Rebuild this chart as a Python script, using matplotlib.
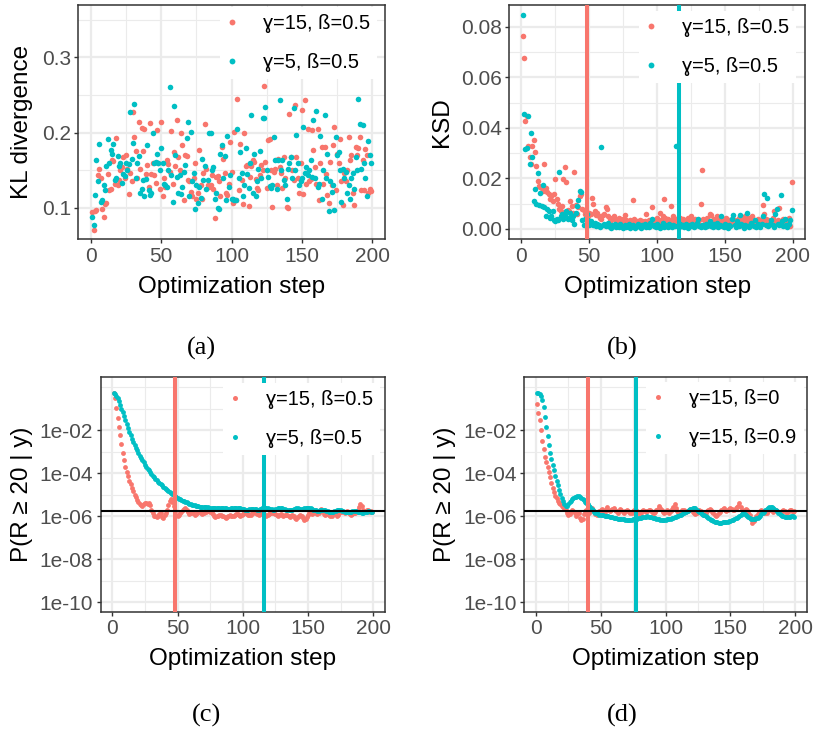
import numpy as np
import matplotlib
matplotlib.use('Agg')
import matplotlib.pyplot as plt
from matplotlib.lines import Line2D
from matplotlib.ticker import FixedLocator, NullFormatter

plt.rcParams['font.family'] = ['Liberation Sans', 'DejaVu Sans']

RED = '#F8766D'
TEAL = '#00BFC4'
GRID = '#EBEBEB'
DARK = '#333333'
TICK_TXT = '#4D4D4D'

steps = np.arange(1, 200)

# (a) KL divergence
kl_g15 = [0.094, 0.070, 0.096, 0.097, 0.143, 0.152, 0.139, 0.098, 0.087, 0.105,
          0.106, 0.145, 0.123, 0.125, 0.163, 0.162, 0.131, 0.193, 0.130, 0.137,
          0.150, 0.154, 0.168, 0.140, 0.170, 0.152, 0.118, 0.146, 0.135, 0.227,
          0.194, 0.175, 0.140, 0.214, 0.152, 0.206, 0.176, 0.205, 0.145, 0.157,
          0.128, 0.213, 0.145, 0.160, 0.143, 0.133, 0.204, 0.159, 0.125, 0.214,
          0.115, 0.140, 0.128, 0.163, 0.158, 0.148, 0.202, 0.132, 0.174, 0.156,
          0.216, 0.167, 0.150, 0.199, 0.183, 0.110, 0.170, 0.169, 0.137, 0.135,
          0.121, 0.115, 0.140, 0.160, 0.111, 0.120, 0.177, 0.130, 0.112, 0.146,
          0.212, 0.152, 0.130, 0.128, 0.130, 0.143, 0.125, 0.086, 0.141, 0.142,
          0.135, 0.115, 0.181, 0.165, 0.146, 0.119, 0.117, 0.132, 0.188, 0.148,
          0.106, 0.201, 0.110, 0.244, 0.123, 0.185, 0.137, 0.105, 0.199, 0.155,
          0.157, 0.102, 0.141, 0.155, 0.163, 0.161, 0.138, 0.126, 0.123, 0.143,
          0.157, 0.150, 0.262, 0.161, 0.126, 0.190, 0.192, 0.150, 0.101, 0.148,
          0.152, 0.130, 0.165, 0.154, 0.146, 0.126, 0.168, 0.140, 0.101, 0.099,
          0.225, 0.168, 0.150, 0.137, 0.236, 0.168, 0.140, 0.119, 0.160, 0.230,
          0.118, 0.243, 0.132, 0.205, 0.135, 0.138, 0.203, 0.177, 0.154, 0.132,
          0.205, 0.110, 0.160, 0.181, 0.132, 0.181, 0.145, 0.117, 0.106, 0.161,
          0.130, 0.183, 0.208, 0.123, 0.172, 0.160, 0.192, 0.135, 0.104, 0.146,
          0.135, 0.150, 0.194, 0.163, 0.170, 0.119, 0.103, 0.181, 0.170, 0.179,
          0.194, 0.123, 0.163, 0.124, 0.178, 0.170, 0.119, 0.125, 0.122]
kl_g5 = [0.088, 0.077, 0.117, 0.164, 0.135, 0.185, 0.108, 0.110, 0.130, 0.123,
         0.156, 0.192, 0.160, 0.177, 0.172, 0.185, 0.137, 0.139, 0.169, 0.155,
         0.159, 0.133, 0.145, 0.142, 0.159, 0.150, 0.158, 0.227, 0.165, 0.186,
         0.238, 0.140, 0.159, 0.169, 0.120, 0.125, 0.137, 0.116, 0.138, 0.183,
         0.123, 0.117, 0.120, 0.200, 0.159, 0.161, 0.171, 0.160, 0.150, 0.180,
         0.160, 0.131, 0.130, 0.128, 0.150, 0.260, 0.143, 0.108, 0.235, 0.170,
         0.141, 0.120, 0.143, 0.118, 0.128, 0.148, 0.157, 0.193, 0.214, 0.115,
         0.201, 0.135, 0.146, 0.098, 0.130, 0.106, 0.128, 0.113, 0.165, 0.137,
         0.155, 0.125, 0.137, 0.199, 0.200, 0.150, 0.154, 0.111, 0.120, 0.099,
         0.098, 0.171, 0.183, 0.140, 0.169, 0.110, 0.196, 0.127, 0.143, 0.112,
         0.112, 0.110, 0.110, 0.205, 0.140, 0.174, 0.146, 0.115, 0.130, 0.179,
         0.145, 0.126, 0.160, 0.223, 0.119, 0.172, 0.115, 0.135, 0.152, 0.176,
         0.140, 0.219, 0.219, 0.234, 0.150, 0.141, 0.129, 0.126, 0.130, 0.194,
         0.163, 0.125, 0.164, 0.243, 0.150, 0.164, 0.137, 0.130, 0.112, 0.152,
         0.160, 0.168, 0.140, 0.232, 0.150, 0.197, 0.160, 0.130, 0.135, 0.140,
         0.207, 0.146, 0.154, 0.143, 0.150, 0.163, 0.141, 0.216, 0.140, 0.228,
         0.127, 0.132, 0.195, 0.112, 0.150, 0.223, 0.140, 0.171, 0.095, 0.135,
         0.121, 0.130, 0.097, 0.194, 0.170, 0.174, 0.150, 0.108, 0.152, 0.140,
         0.148, 0.119, 0.130, 0.111, 0.140, 0.146, 0.125, 0.167, 0.150, 0.245,
         0.212, 0.152, 0.210, 0.160, 0.140, 0.115, 0.189, 0.170, 0.160]

# (b) KSD
ksd_g15 = [0.0764, 0.0676, 0.0428, 0.0447, 0.0330, 0.0286, 0.0256, 0.0330, 0.0352, 0.0305,
           0.0250, 0.0190, 0.0170, 0.0165, 0.0160, 0.0150, 0.0256, 0.0160, 0.0145, 0.0140,
           0.0120, 0.0130, 0.0110, 0.0140, 0.0197, 0.0120, 0.0100, 0.0080, 0.0070, 0.0090,
           0.0197, 0.0247, 0.0187, 0.0075, 0.0070, 0.0110, 0.0090, 0.0065, 0.0227, 0.0095,
           0.0060, 0.0085, 0.0130, 0.0140, 0.0080, 0.0075, 0.0060, 0.0055, 0.0050, 0.0065,
           0.0060, 0.0122, 0.0100, 0.0070, 0.0055, 0.0065, 0.0050, 0.0045, 0.0040, 0.0055,
           0.0060, 0.0085, 0.0080, 0.0050, 0.0040, 0.0035, 0.0045, 0.0050, 0.0040, 0.0035,
           0.0030, 0.0045, 0.0035, 0.0030, 0.0040, 0.0055, 0.0035, 0.0030, 0.0025, 0.0035,
           0.0030, 0.0116, 0.0040, 0.0025, 0.0030, 0.0020, 0.0035, 0.0025, 0.0030, 0.0020,
           0.0030, 0.0060, 0.0025, 0.0035, 0.0030, 0.0085, 0.0030, 0.0025, 0.0040, 0.0045,
           0.0030, 0.0065, 0.0035, 0.0050, 0.0120, 0.0045, 0.0030, 0.0040, 0.0025, 0.0089,
           0.0035, 0.0050, 0.0030, 0.0040, 0.0025, 0.0035, 0.0045, 0.0030, 0.0040, 0.0025,
           0.0035, 0.0030, 0.0045, 0.0020, 0.0050, 0.0030, 0.0025, 0.0040, 0.0030, 0.0020,
           0.0035, 0.0099, 0.0234, 0.0040, 0.0030, 0.0025, 0.0045, 0.0030, 0.0060, 0.0055,
           0.0035, 0.0040, 0.0025, 0.0050, 0.0030, 0.0045, 0.0035, 0.0025, 0.0040, 0.0030,
           0.0045, 0.0020, 0.0035, 0.0030, 0.0040, 0.0025, 0.0035, 0.0020, 0.0030, 0.0045,
           0.0025, 0.0030, 0.0040, 0.0020, 0.0050, 0.0035, 0.0025, 0.0045, 0.0030, 0.0050,
           0.0035, 0.0020, 0.0030, 0.0040, 0.0025, 0.0035, 0.0030, 0.0096, 0.0060, 0.0040,
           0.0025, 0.0035, 0.0030, 0.0020, 0.0045, 0.0070, 0.0030, 0.0025, 0.0035, 0.0083,
           0.0030, 0.0020, 0.0040, 0.0025, 0.0035, 0.0030, 0.0045, 0.0010, 0.0185]
ksd_g5 = [0.0847, 0.0455, 0.0317, 0.0320, 0.0447, 0.0256, 0.0381, 0.0284, 0.0109, 0.0159,
          0.0100, 0.0220, 0.0095, 0.0142, 0.0090, 0.0175, 0.0085, 0.0050, 0.0080, 0.0070,
          0.0045, 0.0050, 0.0070, 0.0035, 0.0030, 0.0040, 0.0035, 0.0227, 0.0050, 0.0060,
          0.0040, 0.0055, 0.0070, 0.0040, 0.0045, 0.0065, 0.0035, 0.0050, 0.0020, 0.0065,
          0.0090, 0.0115, 0.0150, 0.0148, 0.0035, 0.0015, 0.0040, 0.0060, 0.0035, 0.0015,
          0.0030, 0.0020, 0.0015, 0.0025, 0.0010, 0.0020, 0.0015, 0.0008, 0.0323, 0.0015,
          0.0020, 0.0010, 0.0015, 0.0025, 0.0008, 0.0005, 0.0015, 0.0010, 0.0020, 0.0008,
          0.0012, 0.0006, 0.0018, 0.0010, 0.0004, 0.0015, 0.0008, 0.0012, 0.0020, 0.0005,
          0.0010, 0.0015, 0.0007, 0.0003, 0.0012, 0.0018, 0.0009, 0.0005, 0.0014, 0.0010,
          0.0020, 0.0006, 0.0012, 0.0008, 0.0025, 0.0040, 0.0015, 0.0010, 0.0007, 0.0018,
          0.0012, 0.0005, 0.0010, 0.0022, 0.0008, 0.0014, 0.0010, 0.0006, 0.0018, 0.0012,
          0.0008, 0.0015, 0.0010, 0.0330, 0.0012, 0.0006, 0.0018, 0.0010, 0.0014, 0.0008,
          0.0020, 0.0012, 0.0005, 0.0015, 0.0010, 0.0018, 0.0008, 0.0012, 0.0022, 0.0040,
          0.0010, 0.0006, 0.0015, 0.0012, 0.0008, 0.0020, 0.0010, 0.0015, 0.0030, 0.0012,
          0.0008, 0.0018, 0.0010, 0.0025, 0.0006, 0.0015, 0.0050, 0.0012, 0.0008, 0.0020,
          0.0010, 0.0004, 0.0015, 0.0010, 0.0040, 0.0055, 0.0015, 0.0008, 0.0030, 0.0012,
          0.0055, 0.0020, 0.0010, 0.0002, 0.0015, 0.0065, 0.0012, 0.0008, 0.0025, 0.0015,
          0.0010, 0.0035, 0.0006, 0.0018, 0.0012, 0.0008, 0.0020, 0.0050, 0.0138, 0.0015,
          0.0124, 0.0010, 0.0020, 0.0035, 0.0015, 0.0008, 0.0060, 0.0079, 0.0020, 0.0015,
          0.0136, 0.0030, 0.0010, 0.0040, 0.0015, 0.0008, 0.0020, 0.0035, 0.0074]

# (c) log10 P(R >= 20 | y)
logp_c_g15 = [-0.29, -0.50, -0.99, -1.45, -1.85, -2.25, -2.65, -3.05, -3.40, -3.70,
              -3.95, -4.15, -4.35, -4.52, -4.70, -4.85, -5.00, -5.12, -5.25, -5.35,
              -5.44, -5.50, -5.53, -5.45, -5.40, -5.38, -5.42, -5.38, -5.50, -5.70,
              -5.88, -5.98, -6.02, -6.03, -5.98, -5.92, -5.85, -6.05, -6.08, -5.95,
              -5.87, -5.70, -5.50, -5.30, -5.22, -5.33, -5.55, -5.78, -5.95, -6.02,
              -5.97, -5.88, -5.80, -5.72, -5.66, -5.62, -5.70, -5.82, -5.90, -5.86,
              -5.80, -5.88, -5.96, -5.92, -5.85, -5.82, -5.80, -5.85, -5.90, -5.86,
              -5.82, -5.80, -5.75, -5.72, -5.80, -5.86, -5.90, -6.00, -6.05, -6.02,
              -6.00, -5.96, -5.95, -6.00, -6.02, -6.05, -6.08, -6.05, -6.00, -5.96,
              -5.98, -6.02, -6.00, -5.95, -5.92, -5.90, -5.95, -6.00, -5.96, -5.92,
              -5.88, -5.85, -5.90, -5.94, -5.97, -5.93, -5.88, -5.84, -5.80, -5.86,
              -5.92, -5.95, -5.90, -5.85, -5.88, -5.92, -5.96, -6.00, -5.96, -5.92,
              -5.88, -5.84, -5.82, -5.86, -5.90, -5.94, -5.98, -5.95, -5.92, -5.96,
              -6.00, -5.97, -5.93, -5.96, -6.02, -6.05, -6.00, -5.96, -6.02, -6.08,
              -6.12, -6.06, -6.00, -5.95, -5.98, -6.10, -6.18, -6.15, -6.05, -5.95,
              -5.88, -5.85, -5.90, -5.86, -5.82, -5.88, -5.92, -5.85, -5.75, -5.66,
              -5.78, -5.90, -5.96, -5.92, -5.88, -5.95, -6.02, -5.98, -5.90, -5.86,
              -5.92, -5.98, -5.94, -5.88, -5.82, -5.76, -5.80, -5.86, -5.82, -5.78,
              -5.85, -5.92, -5.96, -5.90, -5.84, -5.86, -5.80, -5.70, -5.58, -5.45,
              -5.55, -5.70, -5.82, -5.76, -5.70, -5.74, -5.80, -5.76, -5.82]
logp_c_g5 = [-0.29, -0.33, -0.40, -0.52, -0.66, -0.82, -1.00, -1.18, -1.36, -1.55,
             -1.73, -1.92, -2.08, -2.25, -2.40, -2.55, -2.68, -2.82, -2.95, -3.07,
             -3.19, -3.30, -3.41, -3.51, -3.61, -3.70, -3.79, -3.88, -3.96, -4.04,
             -4.12, -4.19, -4.26, -4.33, -4.40, -4.46, -4.52, -4.58, -4.64, -4.70,
             -4.75, -4.80, -4.85, -4.90, -4.95, -4.99, -5.03, -5.07, -5.11, -5.15,
             -5.19, -5.22, -5.25, -5.28, -5.31, -5.34, -5.37, -5.40, -5.43, -5.45,
             -5.47, -5.49, -5.51, -5.52, -5.54, -5.55, -5.56, -5.57, -5.58, -5.58,
             -5.59, -5.60, -5.60, -5.61, -5.61, -5.62, -5.62, -5.62, -5.63, -5.63,
             -5.63, -5.64, -5.64, -5.64, -5.65, -5.65, -5.65, -5.66, -5.66, -5.66,
             -5.65, -5.64, -5.63, -5.62, -5.61, -5.61, -5.62, -5.64, -5.66, -5.68,
             -5.69, -5.70, -5.70, -5.70, -5.69, -5.68, -5.67, -5.67, -5.68, -5.69,
             -5.70, -5.70, -5.69, -5.67, -5.65, -5.64, -5.63, -5.63, -5.64, -5.66,
             -5.68, -5.69, -5.70, -5.70, -5.69, -5.67, -5.65, -5.64, -5.64, -5.65,
             -5.67, -5.69, -5.71, -5.72, -5.73, -5.73, -5.72, -5.70, -5.68, -5.66,
             -5.65, -5.65, -5.66, -5.67, -5.67, -5.66, -5.64, -5.62, -5.61, -5.61,
             -5.62, -5.64, -5.67, -5.70, -5.72, -5.74, -5.75, -5.75, -5.74, -5.73,
             -5.72, -5.72, -5.73, -5.75, -5.77, -5.79, -5.80, -5.80, -5.79, -5.77,
             -5.75, -5.73, -5.72, -5.72, -5.73, -5.75, -5.77, -5.79, -5.81, -5.82,
             -5.82, -5.81, -5.79, -5.77, -5.76, -5.76, -5.77, -5.79, -5.81, -5.83,
             -5.84, -5.84, -5.83, -5.81, -5.79, -5.78, -5.78, -5.79, -5.80]

# (d) log10 P(R >= 20 | y)
logp_d_b0 = [-0.80, -1.20, -1.55, -2.00, -2.50, -2.90, -3.25, -3.50, -3.70, -3.95,
             -4.20, -4.45, -4.70, -4.90, -5.05, -5.18, -5.28, -5.38, -5.45, -5.52,
             -5.58, -5.62, -5.70, -5.85, -5.95, -5.90, -5.80, -5.72, -5.78, -5.88,
             -6.00, -5.92, -5.85, -6.10, -6.20, -6.15, -5.90, -5.75, -5.70, -5.78,
             -5.85, -5.75, -5.65, -5.72, -5.80, -5.90, -5.95, -5.88, -5.78, -5.72,
             -5.68, -5.76, -5.82, -5.66, -5.58, -5.70, -5.78, -5.74, -5.68, -5.64,
             -5.72, -5.78, -5.84, -5.76, -5.68, -5.74, -5.82, -5.86, -5.78, -5.70,
             -5.76, -5.82, -5.88, -5.84, -5.76, -5.70, -5.74, -5.80, -5.86, -5.92,
             -5.84, -5.78, -5.72, -5.76, -5.82, -5.78, -5.74, -5.70, -5.76, -5.84,
             -5.88, -5.80, -5.74, -5.66, -5.52, -5.64, -5.74, -5.82, -5.86, -5.80,
             -5.74, -5.78, -5.84, -5.76, -5.68, -5.60, -5.45, -5.64, -5.76, -5.82,
             -5.86, -5.80, -5.74, -5.70, -5.76, -5.82, -5.78, -5.72, -5.68, -5.74,
             -5.80, -5.86, -5.92, -5.84, -5.76, -5.72, -5.78, -5.84, -5.90, -5.94,
             -5.86, -5.78, -5.72, -5.68, -5.74, -5.82, -5.88, -5.96, -6.02, -5.94,
             -5.86, -5.80, -5.74, -5.68, -5.64, -5.70, -5.76, -5.72, -5.66, -5.62,
             -5.68, -5.74, -5.70, -5.64, -5.58, -5.52, -5.40, -5.60, -5.72, -5.78,
             -5.72, -5.66, -5.72, -5.82, -5.96, -6.14, -6.32, -6.24, -6.10, -5.98,
             -5.90, -5.84, -5.78, -5.72, -5.76, -5.82, -5.88, -5.84, -5.78, -5.72,
             -5.68, -5.74, -5.80, -5.76, -5.70, -5.76, -5.82, -5.88, -5.84, -5.78,
             -5.72, -5.76, -5.82, -5.86, -5.78, -5.70, -5.74, -5.80, -5.76]
logp_d_b09 = [-0.26, -0.28, -0.33, -0.42, -0.62, -0.95, -1.40, -1.85, -2.30, -2.70,
              -3.05, -3.35, -3.62, -3.88, -4.12, -4.35, -4.56, -4.77, -4.97, -5.15,
              -5.32, -5.45, -5.53, -5.52, -5.45, -5.36, -5.28, -5.22, -5.17, -5.13,
              -5.10, -5.09, -5.09, -5.11, -5.15, -5.20, -5.26, -5.33, -5.39, -5.45,
              -5.52, -5.59, -5.66, -5.73, -5.79, -5.84, -5.88, -5.91, -5.93, -5.95,
              -5.96, -5.97, -5.98, -6.00, -6.01, -6.02, -6.04, -6.05, -6.06, -6.08,
              -6.09, -6.11, -6.12, -6.13, -6.14, -6.15, -6.15, -6.16, -6.17, -6.18,
              -6.18, -6.19, -6.18, -6.17, -6.16, -6.15, -6.15, -6.13, -6.11, -6.09,
              -6.07, -6.05, -6.04, -6.03, -6.03, -6.02, -6.03, -6.03, -6.05, -6.07,
              -6.09, -6.11, -6.12, -6.14, -6.16, -6.17, -6.18, -6.18, -6.18, -6.17,
              -6.16, -6.15, -6.14, -6.12, -6.10, -6.08, -6.06, -6.04, -6.02, -5.99,
              -5.96, -5.93, -5.90, -5.87, -5.83, -5.79, -5.75, -5.72, -5.68, -5.66,
              -5.64, -5.63, -5.65, -5.70, -5.75, -5.80, -5.85, -5.89, -5.93, -5.97,
              -6.01, -6.05, -6.09, -6.13, -6.17, -6.20, -6.23, -6.26, -6.28, -6.30,
              -6.31, -6.31, -6.31, -6.30, -6.29, -6.28, -6.27, -6.26, -6.24, -6.22,
              -6.20, -6.17, -6.14, -6.11, -6.07, -6.03, -5.99, -5.94, -5.90, -5.87,
              -5.89, -5.93, -5.98, -6.03, -6.08, -6.12, -6.15, -6.16, -6.14, -6.11,
              -6.07, -6.03, -5.98, -5.92, -5.86, -5.80, -5.74, -5.68, -5.62, -5.58,
              -5.56, -5.57, -5.61, -5.66, -5.72, -5.78, -5.84, -5.90, -5.95, -5.99,
              -6.02, -6.04, -6.05, -6.05, -6.04, -6.03, -6.02, -6.02, -6.03]

ref_level = 1.8e-6
vlines_bc = [48, 116]
vlines_d = [40, 77]
labels_15_5 = ['ɣ=15, ß=0.5', 'ɣ=5, ß=0.5']
labels_d = ['ɣ=15, ß=0', 'ɣ=15, ß=0.9']

W, H = 813, 733
fig = plt.figure(figsize=(W / 100, H / 100), dpi=100)


def panel(left, right, top, bottom):
    return fig.add_axes([left / W, 1 - bottom / H, (right - left) / W, (bottom - top) / H])


def style(ax, box, ylabel, ylab_x):
    left, right, top, bottom = box
    ax.set_xlim(-8.9, 208.9)
    ax.xaxis.set_major_locator(FixedLocator([0, 50, 100, 150, 200]))
    ax.xaxis.set_minor_locator(FixedLocator([25, 75, 125, 175]))
    ax.grid(which='major', color=GRID, lw=1.6, zorder=0)
    ax.grid(which='minor', color=GRID, lw=0.8, zorder=0)
    ax.set_axisbelow(True)
    for s in ax.spines.values():
        s.set_color(DARK)
        s.set_linewidth(1.1)
    ax.tick_params(which='major', length=2.9, width=1.0, color=DARK,
                   labelsize=15, labelcolor=TICK_TXT, pad=2.5)
    ax.tick_params(which='minor', length=0)
    ax.set_xlabel('Optimization step', fontsize=17.5)
    ax.xaxis.set_label_coords(0.5, -(47.5 / (bottom - top)))
    ax.xaxis.label.set_va('center')
    ax.set_ylabel(ylabel, fontsize=17.5)
    ax.yaxis.set_label_coords((ylab_x - left) / (right - left), 0.5)
    ax.yaxis.label.set_va('center')


def legend(ax, labels, ms, box, lx, ty):
    left, right, top, bottom = box
    handles = [Line2D([], [], ls='', marker='o', ms=ms, color=RED, mec='none'),
               Line2D([], [], ls='', marker='o', ms=ms, color=TEAL, mec='none')]
    leg = ax.legend(handles, labels, loc='upper left',
                    bbox_to_anchor=((lx - left) / (right - left), 1 - (ty - top) / (bottom - top)),
                    borderaxespad=0, frameon=True, fancybox=False, framealpha=1,
                    facecolor='white', edgecolor='white', fontsize=14.5,
                    handlelength=0.5, handletextpad=1.3, labelspacing=1.0, borderpad=0.35)
    leg.get_frame().set_linewidth(0)


# (a)
box_a = (78.3, 385, 5, 239.3)
ax = panel(*box_a)
ax.scatter(steps, kl_g15, s=16, color=RED, lw=0, zorder=2)
ax.scatter(steps, kl_g5, s=16, color=TEAL, lw=0, zorder=2)
ax.set_ylim(0.058, 0.3696)
ax.yaxis.set_major_locator(FixedLocator([0.1, 0.2, 0.3]))
ax.yaxis.set_minor_locator(FixedLocator([0.15, 0.25, 0.35]))
ax.set_yticklabels(['0.1', '0.2', '0.3'])
style(ax, box_a, 'KL divergence', 21.7)
legend(ax, labels_15_5, 4.2, box_a, 220, 7)

# (b)
box_b = (509.3, 805, 5, 239.3)
ax = panel(*box_b)
ax.scatter(steps, ksd_g15, s=16, color=RED, lw=0, zorder=2)
ax.scatter(steps, ksd_g5, s=16, color=TEAL, lw=0, zorder=2)
ax.axvline(vlines_bc[0], color=RED, lw=2.9, zorder=3)
ax.axvline(vlines_bc[1], color=TEAL, lw=2.9, zorder=3)
ax.set_ylim(-0.0041, 0.0886)
ax.yaxis.set_major_locator(FixedLocator([0, 0.02, 0.04, 0.06, 0.08]))
ax.yaxis.set_minor_locator(FixedLocator([0.01, 0.03, 0.05, 0.07]))
ax.set_yticklabels(['0.00', '0.02', '0.04', '0.06', '0.08'])
style(ax, box_b, 'KSD', 441.7)
legend(ax, labels_15_5, 4.2, box_b, 639, 11)


def log_panel(ax, red_vals, teal_vals, vl, box, ylab_x, labels, lx, ty):
    ax.set_yscale('log')
    ax.scatter(steps, 10.0 ** np.array(red_vals), s=12, color=RED, lw=0, zorder=2)
    ax.scatter(steps, 10.0 ** np.array(teal_vals), s=12, color=TEAL, lw=0, zorder=2)
    ax.axvline(vl[0], color=RED, lw=2.9, zorder=3)
    ax.axvline(vl[1], color=TEAL, lw=2.9, zorder=3)
    ax.axhline(ref_level, color='black', lw=1.5, zorder=4)
    ax.set_ylim(10 ** -10.45, 10 ** 0.48)
    ax.yaxis.set_major_locator(FixedLocator([1e-10, 1e-8, 1e-6, 1e-4, 1e-2]))
    ax.yaxis.set_minor_locator(FixedLocator([1e-9, 1e-7, 1e-5, 1e-3, 1e-1, 1e0]))
    ax.yaxis.set_minor_formatter(NullFormatter())
    ax.set_yticklabels(['1e-10', '1e-08', '1e-06', '1e-04', '1e-02'])
    style(ax, box, 'P(R ≥ 20 | y)', ylab_x)
    legend(ax, labels, 3.6, box, lx, ty)


box_c = (100.7, 385, 376.7, 611.7)
log_panel(panel(*box_c), logp_c_g15, logp_c_g5, vlines_bc, box_c, 21.7, labels_15_5, 222.7, 383)

box_d = (524.3, 806.7, 376.7, 611.7)
log_panel(panel(*box_d), logp_d_b0, logp_d_b09, vlines_d, box_d, 445, labels_d, 646, 382)

for x, y, t in [(201, 348, '(a)'), (622, 348, '(b)'), (206, 715, '(c)'), (622, 715, '(d)')]:
    fig.text(x / W, 1 - y / H, t, ha='center', va='center',
             family=['Liberation Serif', 'DejaVu Serif'], fontsize=19)

fig.savefig('out.png', dpi=100, facecolor='white')
